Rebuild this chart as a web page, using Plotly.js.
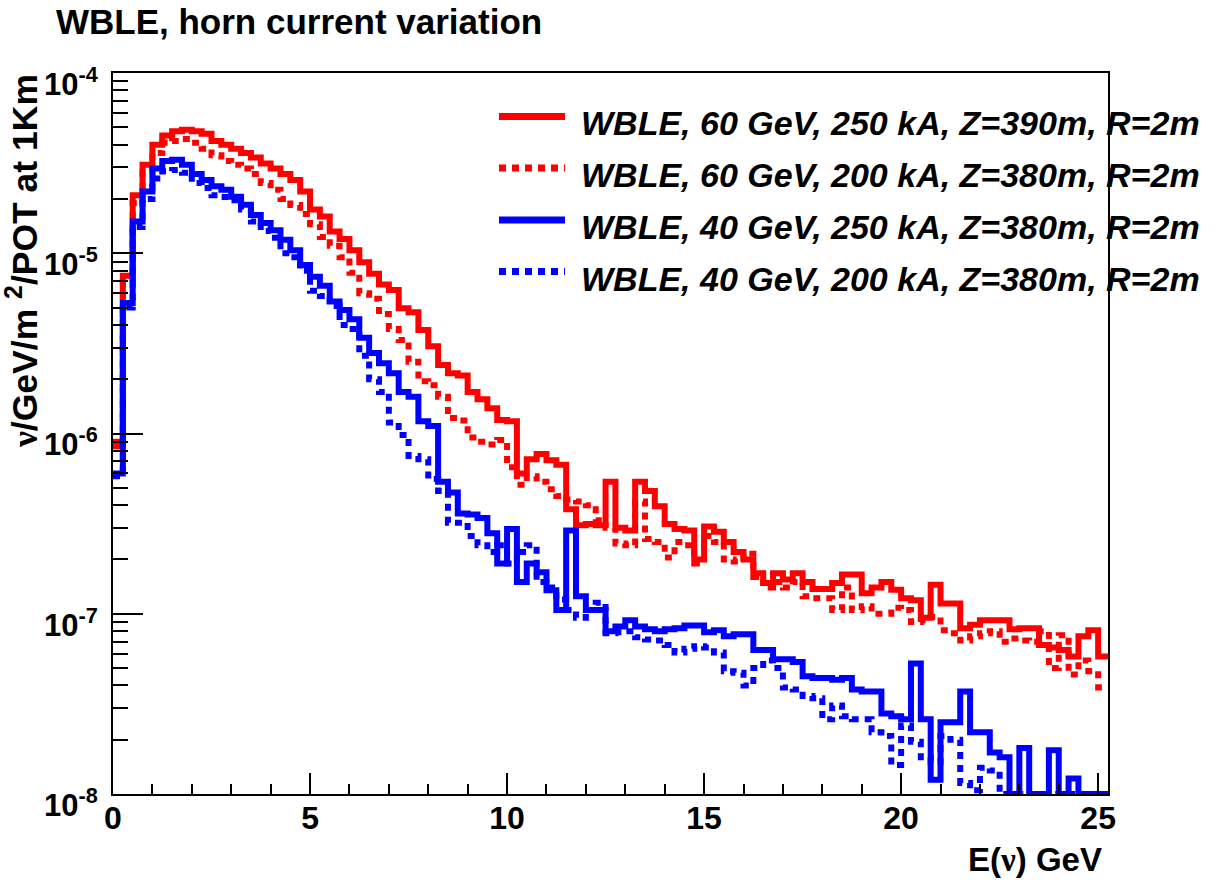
<!DOCTYPE html>
<html><head><meta charset="utf-8">
<script src="https://cdn.plot.ly/plotly-3.0.1.min.js"></script>
<style>html,body{margin:0;padding:0;background:#fff}</style>
</head><body>
<div id="chart" style="width:1217px;height:880px"></div>
<script>
// Histogram definition: 101 bins of 0.25 GeV starting at 0
const binWidth = 0.25;
const xStart = 0;

const seriesNames = [
  "WBLE, 60 GeV, 250 kA, Z=390m, R=2m",
  "WBLE, 60 GeV, 200 kA, Z=380m, R=2m",
  "WBLE, 40 GeV, 250 kA, Z=380m, R=2m",
  "WBLE, 40 GeV, 200 kA, Z=380m, R=2m"
];

const red250 = [
 9.0e-7, 7.5e-6, 2.1e-5, 3.1e-5, 4.0e-5, 4.5e-5, 4.75e-5, 4.85e-5, 4.75e-5, 4.6e-5,
 4.2e-5, 4.0e-5, 3.8e-5, 3.6e-5, 3.4e-5, 3.15e-5, 2.95e-5, 2.75e-5, 2.55e-5, 2.2e-5,
 1.75e-5, 1.6e-5, 1.32e-5, 1.2e-5, 1.04e-5, 8.9e-6, 7.7e-6, 6.7e-6, 6.25e-6, 4.95e-6,
 4.7e-6, 3.75e-6, 3.05e-6, 2.4e-6, 2.16e-6, 2.1e-6, 1.7e-6, 1.55e-6, 1.38e-6, 1.19e-6,
 1.17e-6, 6.0e-7, 7.2e-7, 7.7e-7, 7.1e-7, 6.7e-7, 3.8e-7, 3.1e-7, 3.15e-7, 3.1e-7,
 5.4e-7, 3.0e-7, 2.9e-7, 5.4e-7, 4.8e-7, 3.95e-7, 3.15e-7, 2.95e-7, 2.9e-7, 2.0e-7,
 3.05e-7, 2.85e-7, 2.5e-7, 2.2e-7, 2.0e-7, 1.68e-7, 1.48e-7, 1.68e-7, 1.55e-7, 1.68e-7,
 1.5e-7, 1.37e-7, 1.37e-7, 1.48e-7, 1.65e-7, 1.65e-7, 1.3e-7, 1.4e-7, 1.5e-7, 1.36e-7,
 1.22e-7, 1.19e-7, 9.5e-8, 1.45e-7, 1.14e-7, 1.14e-7, 8.3e-8, 8.7e-8, 9.2e-8, 9.2e-8,
 9.2e-8, 8.2e-8, 8.3e-8, 8.3e-8, 6.7e-8, 6.5e-8, 6.3e-8, 5.8e-8, 7.5e-8, 8.1e-8,
 5.8e-8
];

const red200 = [
 8.5e-7, 7.0e-6, 1.9e-5, 2.8e-5, 3.6e-5, 4.1e-5, 4.2e-5, 4.3e-5, 4.1e-5, 3.8e-5,
 3.5e-5, 3.25e-5, 3.1e-5, 2.95e-5, 2.75e-5, 2.45e-5, 2.25e-5, 2.0e-5, 1.85e-5, 1.65e-5,
 1.45e-5, 1.23e-5, 1.1e-5, 9.5e-6, 7.8e-6, 6.0e-6, 5.6e-6, 4.6e-6, 3.8e-6, 3.3e-6,
 2.5e-6, 1.95e-6, 1.85e-6, 1.6e-6, 1.22e-6, 1.18e-6, 9.5e-7, 9.0e-7, 8.7e-7, 9.2e-7,
 6.5e-7, 5.2e-7, 5.8e-7, 5.4e-7, 4.9e-7, 4.5e-7, 4.3e-7, 4.2e-7, 4.0e-7, 3.3e-7,
 3.0e-7, 2.45e-7, 2.4e-7, 4.2e-7, 2.6e-7, 2.5e-7, 2.05e-7, 2.5e-7, 2.4e-7, 1.9e-7,
 2.7e-7, 2.5e-7, 2.0e-7, 1.95e-7, 2.15e-7, 1.6e-7, 1.4e-7, 1.5e-7, 1.4e-7, 1.5e-7,
 1.25e-7, 1.22e-7, 1.22e-7, 1.05e-7, 1.4e-7, 1.05e-7, 1.1e-7, 1.0e-7, 1.0e-7, 1.08e-7,
 1.05e-7, 9.0e-8, 9.2e-8, 9.6e-8, 8.1e-8, 7.8e-8, 7.1e-8, 7.5e-8, 7.8e-8, 8.0e-8,
 7.0e-8, 7.3e-8, 7.1e-8, 7.0e-8, 8.0e-8, 5.0e-8, 7.6e-8, 4.6e-8, 5.5e-8, 4.8e-8,
 3.9e-8
];

const blue250 = [
 6.0e-7, 5.3e-6, 1.5e-5, 2.2e-5, 2.95e-5, 3.25e-5, 3.3e-5, 3.1e-5, 2.75e-5, 2.55e-5,
 2.35e-5, 2.25e-5, 2.06e-5, 1.86e-5, 1.63e-5, 1.47e-5, 1.34e-5, 1.19e-5, 1.04e-5, 8.6e-6,
 7.4e-6, 6.6e-6, 5.4e-6, 4.85e-6, 4.3e-6, 3.4e-6, 2.8e-6, 2.45e-6, 2.16e-6, 1.7e-6,
 1.6e-6, 1.17e-6, 1.1e-6, 5.4e-7, 4.7e-7, 3.6e-7, 3.55e-7, 3.4e-7, 2.8e-7, 1.9e-7,
 2.95e-7, 1.5e-7, 1.9e-7, 1.7e-7, 1.35e-7, 1.05e-7, 2.9e-7, 1.25e-7, 1.05e-7, 1.05e-7,
 8.0e-8, 8.5e-8, 9.2e-8, 8.5e-8, 8.2e-8, 8.0e-8, 8.2e-8, 8.3e-8, 8.6e-8, 8.6e-8,
 7.9e-8, 8.1e-8, 7.5e-8, 7.7e-8, 7.7e-8, 6.3e-8, 6.3e-8, 5.6e-8, 5.6e-8, 5.4e-8,
 4.5e-8, 4.4e-8, 4.4e-8, 4.3e-8, 4.4e-8, 3.8e-8, 3.7e-8, 3.7e-8, 2.8e-8, 2.7e-8,
 2.6e-8, 5.3e-8, 2.6e-8, 1.2e-8, 2.5e-8, 2.5e-8, 3.7e-8, 2.2e-8, 2.2e-8, 1.7e-8,
 1.6e-8, 1.0e-8, 1.8e-8, 1.0e-8, 1.0e-8, 1.75e-8, 1.0e-8, 1.22e-8, 1.0e-8, 1.0e-8,
 1.0e-8
];

const blue200 = [
 5.8e-7, 5.0e-6, 1.4e-5, 2.0e-5, 2.6e-5, 2.85e-5, 2.9e-5, 2.8e-5, 2.45e-5, 2.3e-5,
 2.1e-5, 2.05e-5, 1.97e-5, 1.75e-5, 1.5e-5, 1.33e-5, 1.22e-5, 1.0e-5, 9.5e-6, 8.0e-6,
 6.2e-6, 5.8e-6, 5.1e-6, 4.0e-6, 3.8e-6, 2.7e-6, 2.0e-6, 1.7e-6, 1.15e-6, 9.8e-7,
 7.5e-7, 7.2e-7, 5.6e-7, 4.8e-7, 3.2e-7, 3.2e-7, 2.7e-7, 2.4e-7, 2.2e-7, 2.4e-7,
 1.9e-7, 2.2e-7, 2.4e-7, 1.5e-7, 1.4e-7, 1.2e-7, 1.05e-7, 9.5e-8, 1.05e-7, 1.15e-7,
 7.8e-8, 7.9e-8, 8.0e-8, 7.4e-8, 7.2e-8, 7.1e-8, 6.7e-8, 6.1e-8, 6.4e-8, 6.6e-8,
 6.5e-8, 6.1e-8, 4.8e-8, 4.7e-8, 4.0e-8, 5.0e-8, 5.5e-8, 5.0e-8, 3.9e-8, 3.8e-8,
 3.5e-8, 3.4e-8, 2.6e-8, 3.1e-8, 2.7e-8, 2.6e-8, 2.6e-8, 2.2e-8, 2.1e-8, 1.45e-8,
 2.4e-8, 1.95e-8, 1.6e-8, 1.5e-8, 2.1e-8, 2.0e-8, 1.15e-8, 1.05e-8, 1.4e-8, 1.35e-8,
 1.0e-8, 1.0e-8, 1.0e-8, 1.0e-8, 1.0e-8, 1.0e-8, 1.0e-8, 1.0e-8, 1.0e-8, 1.0e-8,
 1.0e-8
];

const yTickVals = [1e-8, 1e-7, 1e-6, 1e-5, 1e-4];
const yTickText = ["10<sup>-8</sup>", "10<sup>-7</sup>", "10<sup>-6</sup>", "10<sup>-5</sup>", "10<sup>-4</sup>"];
const xTickVals = [0, 5, 10, 15, 20, 25];

// ---- helpers (geometry only) ----
function binEdges(n) {
  const e = [];
  for (let i = 0; i <= n; i++) e.push(Math.round((xStart + i * binWidth) * 10000) / 10000);
  return e;
}
function stepValues(v) { return v.concat([v[v.length - 1]]); }

const RED = "#ff0000", BLUE = "#0000ff";
const DOTS = "7px,6px";
const LW = 6;

const seriesData = [red250, red200, blue250, blue200];
const seriesColor = [RED, RED, BLUE, BLUE];
const seriesDash = ["solid", DOTS, "solid", DOTS];

const traces = seriesData.map((vals, k) => ({
  type: "scatter",
  mode: "lines",
  name: seriesNames[k],
  x: binEdges(vals.length),
  y: stepValues(vals),
  line: { shape: "hv", color: seriesColor[k], width: LW, dash: seriesDash[k] },
  showlegend: false,
  hoverinfo: "skip"
}));

// minor log ticks 2..9 x 10^n
const yMinor = [];
for (let e = -8; e < -4; e++) for (let d = 2; d <= 9; d++) yMinor.push(d * Math.pow(10, e));

// plot-area geometry in pixels
const W = 1217, H = 880;
const mL = 113, mR = 109, mT = 73, mB = 86;
const pw = W - mL - mR, ph = H - mT - mB;
const px = x => (x - mL) / pw;
const py = y => (H - mB - y) / ph;

const FONT = "Liberation Sans, Arial, Helvetica, sans-serif";
const GREEK = "Liberation Serif, DejaVu Serif, serif";

const annotations = [];
const shapes = [];

// custom legend (ROOT-style)
const legRows = [116.5, 168, 220, 271.5];
seriesNames.forEach((nm, k) => {
  shapes.push({
    type: "line", xref: "paper", yref: "paper",
    x0: px(499), x1: px(565), y0: py(legRows[k]), y1: py(legRows[k]),
    line: { color: seriesColor[k], width: 7, dash: seriesDash[k] === "solid" ? "solid" : DOTS }
  });
  annotations.push({
    xref: "paper", yref: "paper", x: px(579), y: py(legRows[k] + 7),
    xanchor: "left", yanchor: "middle", showarrow: false,
    text: "<b><i>" + nm + "</i></b>",
    font: { family: FONT, size: 34, color: "#000" }
  });
});

// axis titles (ROOT puts them at the end of the axis)
annotations.push({
  xref: "paper", yref: "paper", x: px(1104), y: py(859),
  xanchor: "right", yanchor: "middle", showarrow: false,
  text: "<b>E(<span style=\"font-family:" + GREEK + "\">\u03bd</span>) GeV</b>",
  font: { family: FONT, size: 33, color: "#000" }
});
annotations.push({
  xref: "paper", yref: "paper", x: px(22), y: py(72),
  xanchor: "center", yanchor: "top", showarrow: false, textangle: -90,
  text: "<b><span style=\"font-family:" + GREEK + "\">\u03bd</span>/GeV/m <sup>2</sup>/POT at 1Km</b>",
  font: { family: FONT, size: 35.5, color: "#000" }
});

const layout = {
  width: W, height: H,
  margin: { l: mL, r: mR, t: mT, b: mB, pad: 0 },
  paper_bgcolor: "#fff", plot_bgcolor: "#fff",
  showlegend: false,
  font: { family: FONT, color: "#000" },
  title: {
    text: "<b>WBLE, horn current variation</b>",
    font: { family: FONT, size: 35, color: "#000" },
    xref: "container", x: 56 / W, xanchor: "left",
    yref: "container", y: 1 - 22 / H, yanchor: "middle"
  },
  xaxis: {
    range: [0, 25.25], showgrid: false, zeroline: false,
    showline: true, linewidth: 2, linecolor: "#000", mirror: true,
    ticks: "inside", ticklen: 21, tickwidth: 2, tickcolor: "#000",
    tickmode: "array", tickvals: xTickVals, ticktext: xTickVals.map(String),
    tickfont: { family: FONT, size: 32, color: "#000", weight: "bold" },
    ticklabelstandoff: -5,
    minor: { tickmode: "linear", tick0: 0, dtick: 1, ticks: "inside", ticklen: 10, tickwidth: 2, tickcolor: "#000", showgrid: false }
  },
  yaxis: {
    type: "log", range: [-8, -4], showgrid: false, zeroline: false,
    showline: true, linewidth: 2, linecolor: "#000", mirror: true,
    ticks: "inside", ticklen: 30, tickwidth: 2, tickcolor: "#000",
    tickmode: "array", tickvals: yTickVals, ticktext: yTickText,
    tickfont: { family: FONT, size: 31, color: "#000", weight: "bold" },
    ticklabelstandoff: 7,
    ticklabelshift: 11,
    minor: { tickmode: "array", tickvals: yMinor, ticks: "inside", ticklen: 15, tickwidth: 2, tickcolor: "#000", showgrid: false }
  },
  shapes: shapes,
  annotations: annotations
};

Plotly.newPlot("chart", traces, layout, { staticPlot: true, displayModeBar: false });
</script>
</body></html>
